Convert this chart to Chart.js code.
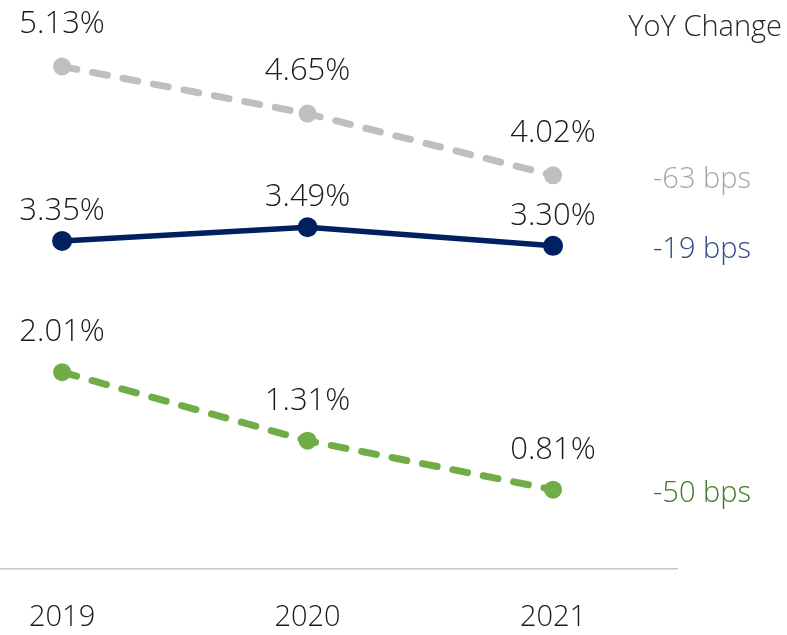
<!DOCTYPE html>
<html>
<head>
<meta charset="utf-8">
<script src="https://cdn.jsdelivr.net/npm/chart.js@4"></script>
<style>
  html, body { margin: 0; padding: 0; background: #fff; }
  #wrap { width: 787px; height: 635px; }
</style>
</head>
<body>
<div id="wrap"><canvas id="chart"></canvas></div>
<script>
// data
var years = [2019, 2020, 2021];
var greyValues = [5.13, 4.65, 4.02];
var navyValues = [3.35, 3.49, 3.30];
var greenValues = [2.01, 1.31, 0.81];
var changeLabels = ['-63 bps', '-19 bps', '-50 bps'];
var changeTitle = 'YoY Change';

var FONT = "'Open Sans', 'Noto Sans', sans-serif";
var colors = ['#bfbfbf', '#002060', '#70ad47'];
var changeColors = ['#a6a6a6', '#2f4b8c', '#3d7a25'];
var labelOffsets = [42, 30, 40];

function toPoints(values) {
    return values.map(function (v, i) { return { x: years[i], y: v }; });
}

// draws the % value above every point
var valueLabels = {
    id: 'valueLabels',
    afterDatasetsDraw: function (chart) {
        var ctx = chart.ctx;
        ctx.save();
        ctx.font = '300 31px ' + FONT;
        ctx.fillStyle = '#1a1a1a';
        ctx.textAlign = 'center';
        ctx.textBaseline = 'middle';
        chart.data.datasets.forEach(function (ds, di) {
            chart.getDatasetMeta(di).data.forEach(function (pt, i) {
                ctx.fillText(ds.data[i].y.toFixed(2) + '%', pt.x, pt.y - labelOffsets[di]);
            });
        });
        ctx.restore();
    }
};

// YoY change text on the right, next to the last point of each line
var changeText = {
    id: 'changeText',
    afterDraw: function (chart) {
        var ctx = chart.ctx;
        ctx.save();
        ctx.textBaseline = 'middle';
        ctx.font = '300 29px ' + FONT;
        ctx.textAlign = 'right';
        ctx.fillStyle = '#262626';
        ctx.fillText(changeTitle, 782, 28);
        ctx.textAlign = 'left';
        chart.data.datasets.forEach(function (ds, di) {
            var meta = chart.getDatasetMeta(di);
            var last = meta.data[meta.data.length - 1];
            ctx.fillStyle = changeColors[di];
            ctx.fillText(changeLabels[di], chart.chartArea.right - 24, last.y + 4);
        });
        ctx.restore();
    }
};

function lineSet(values, idx, dashed) {
    return {
        data: toPoints(values),
        borderColor: colors[idx],
        backgroundColor: colors[idx],
        borderWidth: dashed ? 7 : 5.5,
        borderDash: dashed ? [15, 16] : [],
        borderCapStyle: 'round',
        pointRadius: dashed ? 9 : 10,
        pointBackgroundColor: colors[idx],
        pointBorderWidth: 0,
        tension: 0
    };
}

var chart = new Chart(document.getElementById('chart').getContext('2d'), {
    type: 'line',
    data: {
        datasets: [
            lineSet(greyValues, 0, true),
            lineSet(navyValues, 1, false),
            lineSet(greenValues, 2, true)
        ]
    },
    options: {
        responsive: true,
        maintainAspectRatio: false,
        animation: false,
        layout: { autoPadding: false, padding: { left: 0, right: 110, top: 0, bottom: 0 } },
        plugins: {
            legend: { display: false },
            tooltip: { enabled: false }
        },
        scales: {
            x: {
                type: 'linear',
                min: 2018.747,
                max: 2021.505,
                afterBuildTicks: function (scale) {
                    scale.ticks = years.map(function (y) { return { value: y }; });
                },
                afterFit: function (scale) {
                    scale.height = 66;
                    scale.paddingLeft = 0;
                    scale.paddingRight = 0;
                },
                grid: { display: false, drawTicks: false },
                border: { display: true, color: '#c8c8c8', width: 1.5 },
                ticks: {
                    padding: 31,
                    color: '#1a1a1a',
                    font: { family: FONT, size: 29, weight: '300' },
                    callback: function (v) { return String(v); },
                    maxRotation: 0
                }
            },
            y: {
                display: false,
                min: 0,
                max: 5.81
            }
        }
    },
    plugins: [valueLabels, changeText]
});
</script>
</body>
</html>
